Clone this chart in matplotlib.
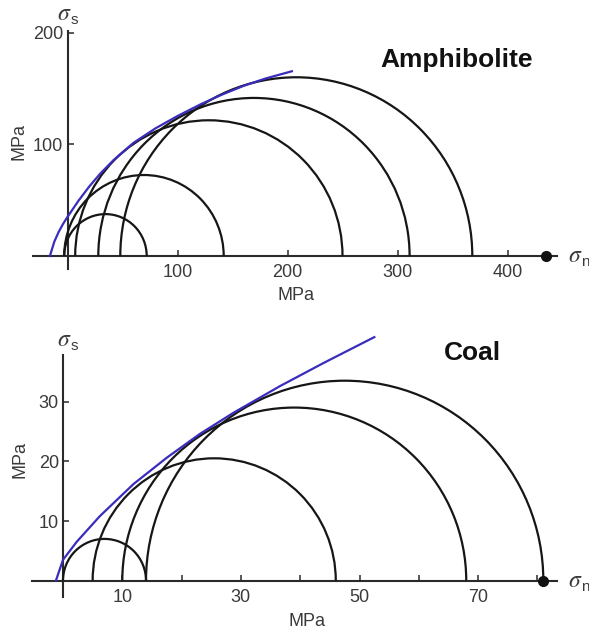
import matplotlib
matplotlib.use("Agg")
import matplotlib.pyplot as plt
from matplotlib.patches import Arc

plt.rcParams['font.family'] = ['Liberation Sans', 'DejaVu Sans']
plt.rcParams['mathtext.fontset'] = 'stix'

# ---------------- data ----------------
# Amphibolite: Mohr circles (sigma3, sigma1) in MPa
amph_s3 = [-3, -3, 7, 28, 48]
amph_s1 = [72, 142, 250, 311, 368]
amph_env_sn = [-16, -12, -8, -4, 0, 10, 20, 30, 42, 60, 80, 100, 121, 140, 160, 180, 204]
amph_env_ss = [0, 12.8, 21.6, 28.8, 35, 49.5, 62.5, 74, 86, 101.3, 114.3, 125.3,
               135.8, 144.3, 152.3, 158.9, 165.4]
amph_xticks = [100, 200, 300, 400]
amph_yticks = [100, 200]
amph_point = 435

# Coal
coal_s3 = [0, 5, 10, 14]
coal_s1 = [14, 46, 68, 81]
coal_env_sn = [-1.2, 0, 2.3, 6.2, 11.9, 17.5, 23.1, 28.7, 36.6, 44, 52.5]
coal_env_ss = [0, 3.5, 6.5, 10.8, 16.2, 20.6, 24.6, 28.1, 32.6, 36.5, 40.8]
coal_xticks = [10, 20, 30, 40, 50, 60, 70, 80]
coal_xticklabels = ['10', '', '30', '', '50', '', '70', '']
coal_yticks = [10, 20, 30]
coal_point = 81

W, H = 589, 633
fig = plt.figure(figsize=(W / 100, H / 100), dpi=100)

AX_COL = '#2a2a2a'
TXT_COL = '#3a3a3a'
CIRC_COL = '#161616'
ENV_COL = '#3a2cbc'


def make_axes(rect_px, x0px, sx, y0px, sy):
    l, t, r, b = rect_px
    ax = fig.add_axes([l / W, 1 - b / H, (r - l) / W, (b - t) / H])
    ax.set_xlim((l - x0px) / sx, (r - x0px) / sx)
    ax.set_ylim((y0px - b) / sy, (y0px - t) / sy)
    ax.patch.set_alpha(0)
    return ax


def style(ax, xb, yb, xticks, xlabels, yticks):
    for s in ['top', 'right']:
        ax.spines[s].set_visible(False)
    ax.spines['bottom'].set_position(('data', 0))
    ax.spines['left'].set_position(('data', 0))
    ax.spines['bottom'].set_bounds(*xb)
    ax.spines['left'].set_bounds(*yb)
    for s in ['bottom', 'left']:
        ax.spines[s].set_linewidth(1.5)
        ax.spines[s].set_color(AX_COL)
    ax.set_xticks(xticks)
    ax.set_xticklabels(xlabels)
    ax.set_yticks(yticks)
    ax.tick_params(axis='both', direction='in', length=4.5, width=1.1,
                   color=AX_COL, labelcolor=TXT_COL, labelsize=13)
    ax.tick_params(axis='x', pad=6)
    ax.tick_params(axis='y', pad=3)


def circles(ax, s3, s1):
    for a, b in zip(s3, s1):
        c = (a + b) / 2
        d = b - a
        ax.add_patch(Arc((c, 0), d, d, theta1=0, theta2=180,
                         color=CIRC_COL, lw=1.6, zorder=3))


def sigma(xpx, ypx, sub):
    fig.text(xpx / W, 1 - ypx / H, r'$\sigma$', fontsize=17,
             ha='left', va='baseline', color=TXT_COL)
    fig.text((xpx + 13.5) / W, 1 - (ypx + 4) / H, sub, fontsize=11,
             ha='left', va='baseline', color=TXT_COL)


# ---------------- top: amphibolite ----------------
ax1 = make_axes((0, 0, W, 316), 67.5, 1.1, 256, 1.117)
style(ax1, (-31, 445), (-11.5, 201), amph_xticks,
      [str(v) for v in amph_xticks], amph_yticks)
circles(ax1, amph_s3, amph_s1)
ax1.plot(amph_env_sn, amph_env_ss, color=ENV_COL, lw=1.6, zorder=4,
         solid_joinstyle='round')
ax1.plot([amph_point], [0], 'o', color='#111111', ms=7, zorder=5, clip_on=False)
fig.text(457 / W, 1 - 60 / H, 'Amphibolite', fontsize=19, fontweight='bold',
         ha='center', va='center', color='#111111')
sigma(568, 262, 'n')
sigma(57, 20, 's')
fig.text(296 / W, 1 - 296 / H, 'MPa', fontsize=13, ha='center',
         va='center', color=TXT_COL)
fig.text(19 / W, 1 - 142 / H, 'MPa', fontsize=13, ha='center',
         va='center', rotation=90, color=TXT_COL)

# ---------------- bottom: coal ----------------
ax2 = make_axes((0, 317, W, H), 63, 5.93, 580.7, 5.97)
style(ax2, (-5.3, 83.3), (-2.7, 37.8), coal_xticks, coal_xticklabels,
      coal_yticks)
circles(ax2, coal_s3, coal_s1)
ax2.plot(coal_env_sn, coal_env_ss, color=ENV_COL, lw=1.6, zorder=4,
         solid_joinstyle='round')
ax2.plot([coal_point], [0], 'o', color='#111111', ms=7, zorder=5, clip_on=False)
fig.text(472 / W, 1 - 353 / H, 'Coal', fontsize=19, fontweight='bold',
         ha='center', va='center', color='#111111')
sigma(568, 587, 'n')
sigma(57, 346, 's')
fig.text(307 / W, 1 - 621 / H, 'MPa', fontsize=13, ha='center',
         va='center', color=TXT_COL)
fig.text(20 / W, 1 - 460 / H, 'MPa', fontsize=13, ha='center',
         va='center', rotation=90, color=TXT_COL)

fig.savefig('out.png', dpi=100)
